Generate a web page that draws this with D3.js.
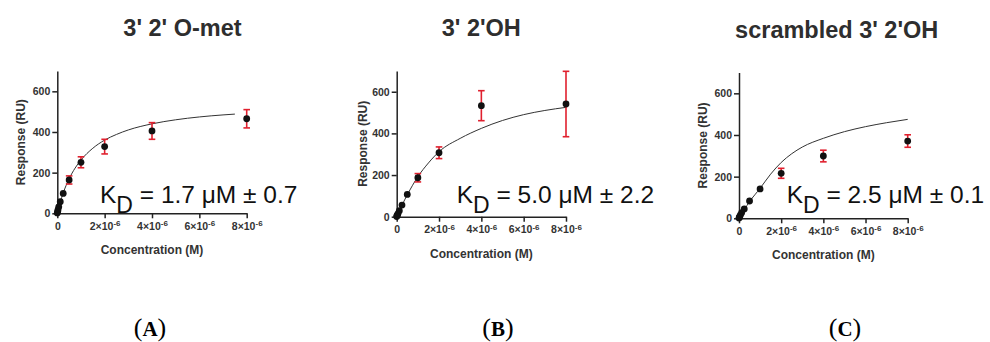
<!DOCTYPE html>
<html>
<head>
<meta charset="utf-8">
<script src="https://cdn.jsdelivr.net/npm/d3@7"></script>
<style>
  body { margin: 0; background: #fff; }
  svg { display: block; }
  .tick text { font-family: "Liberation Sans", Arial, sans-serif; font-weight: bold; font-size: 10.5px; fill: #333; }
</style>
</head>
<body>
<div id="chart"></div>
<script>
const width = 990;
const height = 342;

// concentrations (M), shared by all three panels
const concentrations = [8e-6, 4e-6, 2e-6, 1e-6, 5e-7, 2.5e-7, 1.25e-7, 6.25e-8, 3.125e-8, 1.5625e-8, 0];

// panel A: 3' 2' O-met
const responseA = [465, 405, 328, 251, 164, 98, 57, 32, 18, 9, 2];
const errorA = [45, 41, 36, 27, 20, 6, 4, 3, 2, 2, 0];
const fitConcA = [0, 1.25e-7, 2.5e-7, 5e-7, 7.5e-7, 1e-6, 1.5e-6, 2e-6, 2.5e-6, 3e-6, 4e-6, 5e-6, 6e-6, 7e-6, 7.5e-6];
const fitRespA = [0, 55, 100, 170, 222, 262, 320, 360, 388, 410, 440, 460, 474, 484, 488];

// panel B: 3' 2'OH
const responseB = [541, 533, 307, 187, 107, 56, 29, 15, 8, 4, 1];
const errorB = [157, 72, 28, 20, 8, 5, 3, 2, 2, 1, 0];
const fitConcB = [0, 2.5e-7, 5e-7, 1e-6, 1.5e-6, 2e-6, 3e-6, 4e-6, 5e-6, 6e-6, 7e-6, 8e-6];
const fitRespB = [0, 55, 105, 192, 258, 312, 376, 424, 462, 490, 510, 525];

// panel C: scrambled 3' 2'OH
const responseC = [371, 299, 216, 141, 83, 45, 27, 15, 8, 4, 1];
const errorC = [30, 28, 24, 8, 6, 4, 3, 2, 1, 1, 0];
const fitConcC = [0, 2.5e-7, 5e-7, 1e-6, 1.5e-6, 2e-6, 2.5e-6, 3e-6, 4e-6, 5e-6, 6e-6, 7e-6, 8e-6];
const fitRespC = [0, 42, 80, 144, 212, 268, 310, 342, 384, 416, 440, 459, 475];

const titles = ["3' 2' O-met", "3' 2'OH", "scrambled 3' 2'OH"];
const kdValues = ["1.7", "5.0", "2.5"];
const kdErrors = ["0.7", "2.2", "0.1"];
const panelLetters = ["A", "B", "C"];
const xTicks = [0, 2e-6, 4e-6, 6e-6, 8e-6];
const yTicks = [0, 200, 400, 600];

// layout of each panel (pixel frames)
const panels = [
  { x0: 57.3, x1: 246.7, y0: 213.3, y1: 71, titleX: 182.5, titleY: 36, kdX: 100, ylabX: 21, letterX: 150,
    resp: responseA, err: errorA, fitX: fitConcA, fitY: fitRespA },
  { x0: 396.7, x1: 566, y0: 216.7, y1: 70.9, titleX: 481.3, titleY: 36, kdX: 456.7, ylabX: 363, letterX: 498,
    resp: responseB, err: errorB, fitX: fitConcB, fitY: fitRespB },
  { x0: 739, x1: 907.7, y0: 218.3, y1: 72.5, titleX: 836.7, titleY: 38, kdX: 786.7, ylabX: 703, letterX: 845,
    resp: responseC, err: errorC, fitX: fitConcC, fitY: fitRespC }
];

const svg = d3.select("#chart")
  .append("svg")
  .attr("width", width)
  .attr("height", height)
  .attr("viewBox", `0 0 ${width} ${height}`);

const sans = "'Liberation Sans', Arial, sans-serif";

function xTickLabel(sel) {
  sel.each(function (d) {
    const t = d3.select(this);
    t.text(null);
    if (d === 0) { t.text("0"); return; }
    t.append("tspan").text(`${d / 1e-6}×10`);
    t.append("tspan").attr("dy", "-0.45em").attr("font-size", "8px").text("-6");
  });
}

panels.forEach((p, i) => {
  const x = d3.scaleLinear().domain([0, 8e-6]).range([p.x0, p.x1]);
  const y = d3.scaleLinear().domain([0, 700]).range([p.y0, p.y1]);
  const g = svg.append("g").attr("class", `panel-${i}`);

  // title
  g.append("text")
    .attr("x", p.titleX).attr("y", p.titleY)
    .attr("text-anchor", "middle")
    .attr("font-family", sans).attr("font-weight", "bold").attr("font-size", "23.5px")
    .attr("fill", "#2e2e2e")
    .text(titles[i]);

  // axes
  const yAxis = g.append("g")
    .attr("transform", `translate(${p.x0},0)`)
    .call(d3.axisLeft(y).tickValues(yTicks).tickSize(5).tickPadding(2).tickSizeOuter(0));
  yAxis.select(".domain").attr("stroke", "#222").attr("stroke-width", 1.5);
  yAxis.selectAll(".tick line").attr("stroke", "#222").attr("stroke-width", 1.5);

  const xAxis = g.append("g")
    .attr("transform", `translate(0,${p.y0})`)
    .call(d3.axisBottom(x).tickValues(xTicks).tickSize(5).tickPadding(4).tickSizeOuter(0));
  xAxis.select(".domain").attr("stroke", "#222").attr("stroke-width", 1.5);
  xAxis.selectAll(".tick line").attr("stroke", "#222").attr("stroke-width", 1.5);
  xAxis.selectAll(".tick text").call(xTickLabel);

  // axis titles
  g.append("text")
    .attr("x", (p.x0 + p.x1) / 2).attr("y", p.y0 + 41)
    .attr("text-anchor", "middle")
    .attr("font-family", sans).attr("font-weight", "bold").attr("font-size", "12px")
    .attr("fill", "#333")
    .text("Concentration (M)");

  g.append("text")
    .attr("transform", `translate(${p.ylabX + 4},${(p.y0 + p.y1) / 2}) rotate(-90)`)
    .attr("text-anchor", "middle")
    .attr("font-family", sans).attr("font-weight", "bold").attr("font-size", "12px")
    .attr("fill", "#333")
    .text("Response (RU)");

  // fitted curve
  const line = d3.line()
    .x((d, j) => x(p.fitX[j]))
    .y((d) => y(d))
    .curve(d3.curveMonotoneX);
  g.append("path")
    .datum(p.fitY)
    .attr("d", line)
    .attr("fill", "none")
    .attr("stroke", "#333")
    .attr("stroke-width", 1);

  // error bars
  const bars = g.append("g").selectAll("g")
    .data(concentrations.map((c, j) => ({ c: c, v: p.resp[j], e: p.err[j] })))
    .enter().append("g").attr("stroke", "#e0202e").attr("stroke-width", 1.6);
  bars.append("line")
    .attr("x1", (d) => x(d.c)).attr("x2", (d) => x(d.c))
    .attr("y1", (d) => y(d.v - d.e)).attr("y2", (d) => y(d.v + d.e));
  bars.filter((d) => d.e > 8).append("line")
    .attr("x1", (d) => x(d.c) - 3.3).attr("x2", (d) => x(d.c) + 3.3)
    .attr("y1", (d) => y(d.v + d.e)).attr("y2", (d) => y(d.v + d.e));
  bars.filter((d) => d.e > 8).append("line")
    .attr("x1", (d) => x(d.c) - 3.3).attr("x2", (d) => x(d.c) + 3.3)
    .attr("y1", (d) => y(d.v - d.e)).attr("y2", (d) => y(d.v - d.e));

  // points
  g.append("g").selectAll("circle")
    .data(concentrations.map((c, j) => ({ c: c, v: p.resp[j] })))
    .enter().append("circle")
    .attr("cx", (d) => x(d.c)).attr("cy", (d) => y(d.v))
    .attr("r", 3.4)
    .attr("fill", "#111");

  // K_D annotation
  const kd = g.append("text")
    .attr("x", p.kdX).attr("y", 203.3)
    .attr("font-family", sans).attr("font-size", "24.5px")
    .attr("fill", "#111");
  kd.append("tspan").text("K");
  kd.append("tspan").attr("dy", 10).attr("font-size", "23px").text("D");
  kd.append("tspan").attr("dy", -10).text(` = ${kdValues[i]} μM ± ${kdErrors[i]}`);

  // panel letter
  const lab = svg.append("text")
    .attr("x", p.letterX).attr("y", 336)
    .attr("text-anchor", "middle")
    .attr("font-family", "'Liberation Serif', 'DejaVu Serif', serif")
    .attr("font-size", "26px")
    .attr("fill", "#000");
  lab.append("tspan").text("(");
  lab.append("tspan").attr("font-weight", "bold").attr("font-size", "21px").text(panelLetters[i]);
  lab.append("tspan").text(")");
});
</script>
</body>
</html>
